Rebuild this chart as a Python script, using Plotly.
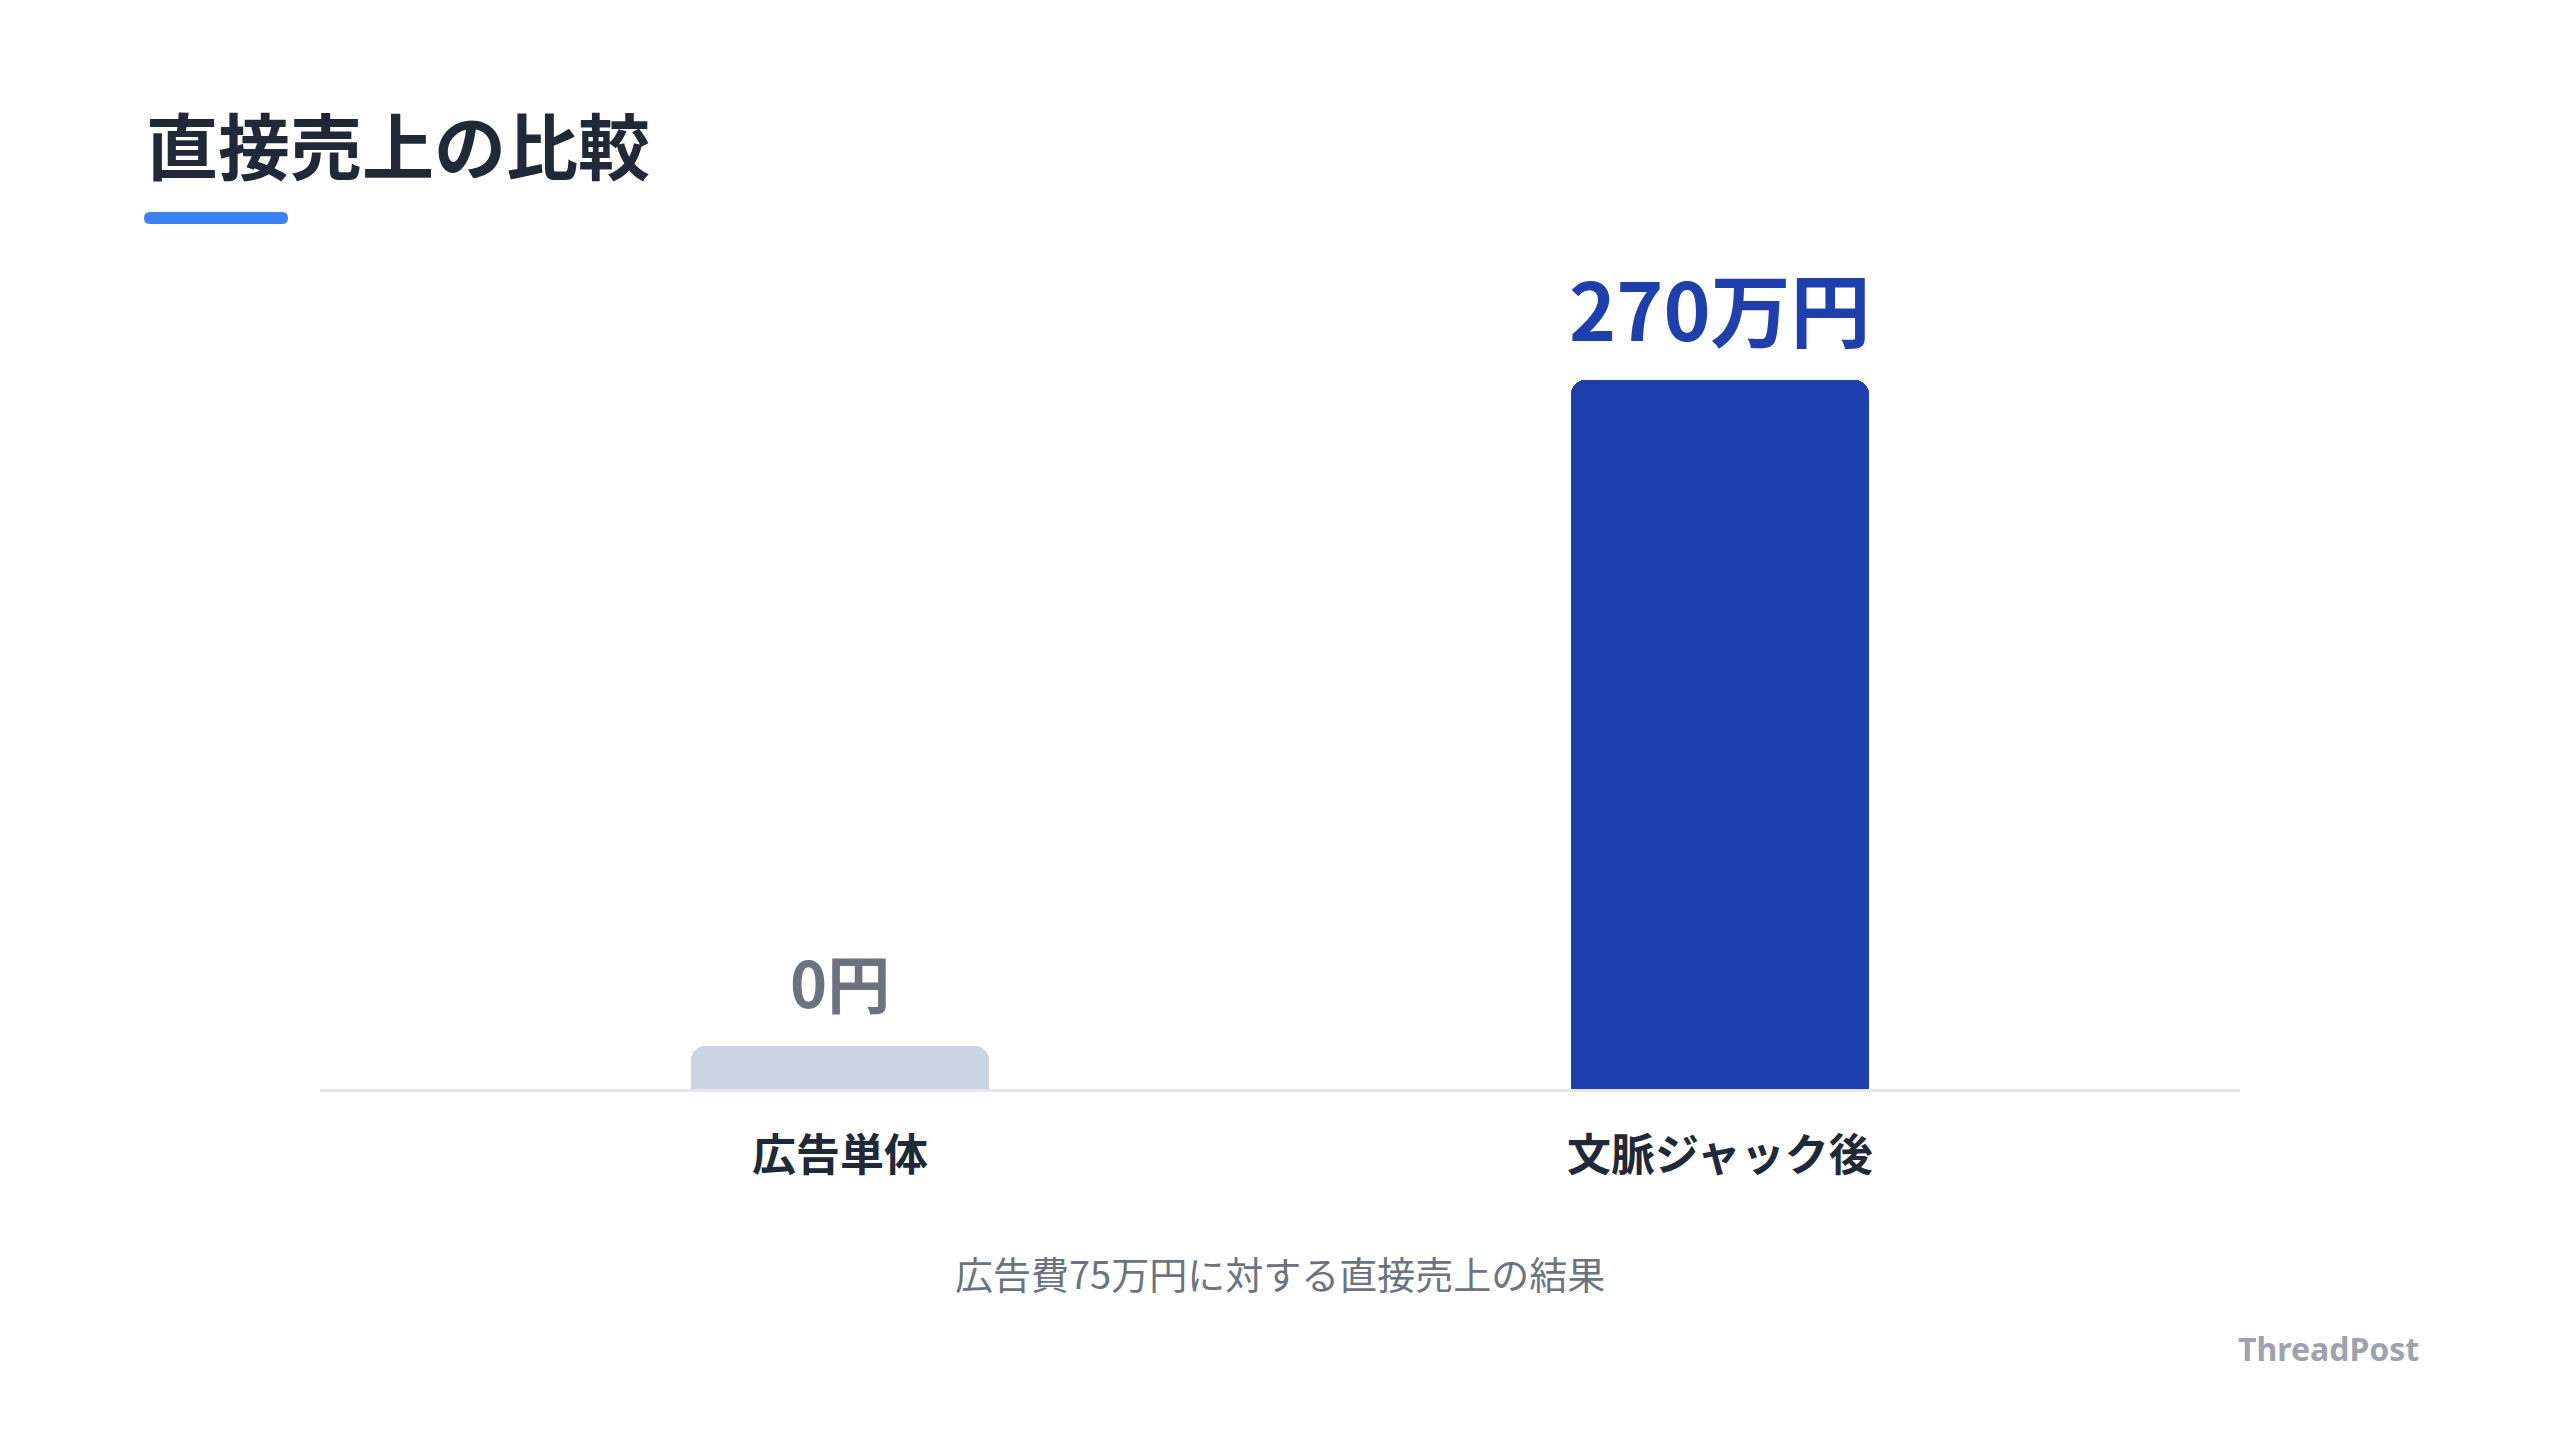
import plotly.graph_objects as go

# ---- data ----
categories = ["広告単体", "文脈ジャック後"]
sales_man_yen = [0, 270]
value_labels = ["0円", "270万円"]
bar_colors = ["#cbd5e1", "#1e40af"]
label_colors = ["#6b7280", "#1e40af"]
label_sizes = [63, 80]
label_shifts = [18, 14]

title_text = "直接売上の比較"
subtitle_text = "広告費75万円に対する直接売上の結果"
brand_text = "ThreadPost"

# minimal visible height for zero-valued bar
min_visible = max(sales_man_yen) * 0.06
display_vals = [max(v, min_visible) for v in sales_man_yen]

W, H = 2560, 1440
OFF = 8  # page body margin offset
PLOT_L, PLOT_R, PLOT_T, PLOT_B = 320 - OFF, 2240 - OFF, 301 - OFF, 1089 - OFF
ML, MR, MT, MB = PLOT_L, W - PLOT_R, PLOT_T, H - PLOT_B
PW, PH = PLOT_R - PLOT_L, PLOT_B - PLOT_T
FONT = "Noto Sans CJK JP, Noto Sans, sans-serif"


def px(x):
    return (x - OFF - PLOT_L) / PW


def py(y):
    return (PLOT_B - (y - OFF)) / PH


fig = go.Figure()
fig.add_trace(go.Bar(
    x=categories,
    y=display_vals,
    width=0.339,
    marker=dict(color=bar_colors, cornerradius=14, line=dict(width=0)),
    hoverinfo="skip",
))

for cat, dv, lab, col, sz, sh in zip(categories, display_vals, value_labels,
                                      label_colors, label_sizes, label_shifts):
    fig.add_annotation(
        x=cat, y=dv, xref="x", yref="y", text=f"<b>{lab}</b>",
        showarrow=False, yanchor="bottom", yshift=sh,
        font=dict(family=FONT, size=sz, color=col),
    )

# title
fig.add_annotation(
    x=px(144), y=py(142), xref="paper", yref="paper", text=f"<b>{title_text}</b>",
    showarrow=False, xanchor="left", yanchor="middle",
    font=dict(family=FONT, size=72, color="#1f2937"),
)

# underline (rounded bar)
x0, x1, y0, y1 = 144, 288, 212, 224
r = (y1 - y0) / 2
path = (
    f"M {px(x0 + r)},{py(y0)} L {px(x1 - r)},{py(y0)} "
    f"Q {px(x1)},{py(y0)} {px(x1)},{py(y0 + r)} "
    f"Q {px(x1)},{py(y1)} {px(x1 - r)},{py(y1)} "
    f"L {px(x0 + r)},{py(y1)} "
    f"Q {px(x0)},{py(y1)} {px(x0)},{py(y0 + r)} "
    f"Q {px(x0)},{py(y0)} {px(x0 + r)},{py(y0)} Z"
)
fig.add_shape(type="path", path=path, xref="paper", yref="paper",
              fillcolor="#3b82f6", line=dict(width=0), layer="above")

# subtitle
fig.add_annotation(
    x=px(1280), y=py(1272), xref="paper", yref="paper", text=subtitle_text,
    showarrow=False, xanchor="center", yanchor="middle",
    font=dict(family=FONT, size=38, color="#6b7280"),
)

# brand
fig.add_annotation(
    x=px(2421), y=py(1348), xref="paper", yref="paper", text=f"<b>{brand_text}</b>",
    showarrow=False, xanchor="right", yanchor="middle",
    font=dict(family="Noto Sans, sans-serif", size=32, color="#9ca3af"),
)

fig.update_layout(
    width=W, height=H,
    margin=dict(l=ML, r=MR, t=MT, b=MB, autoexpand=False),
    paper_bgcolor="#ffffff", plot_bgcolor="#ffffff",
    showlegend=False,
    font=dict(family=FONT),
    bargap=0,
)
fig.update_xaxes(
    range=[-0.591, 1.591], showgrid=False, zeroline=False,
    showline=True, linecolor="#e5e7eb", linewidth=3, layer="below traces",
    ticks="", ticklabelstandoff=26,
    tickfont=dict(family=FONT, size=44, color="#1f2937", weight="bold"),
    fixedrange=True,
)
fig.update_yaxes(
    range=[0, 300], showgrid=False, zeroline=False, showline=False,
    showticklabels=False, ticks="", fixedrange=True,
)

fig.write_html("out.html", config={"displayModeBar": False})
